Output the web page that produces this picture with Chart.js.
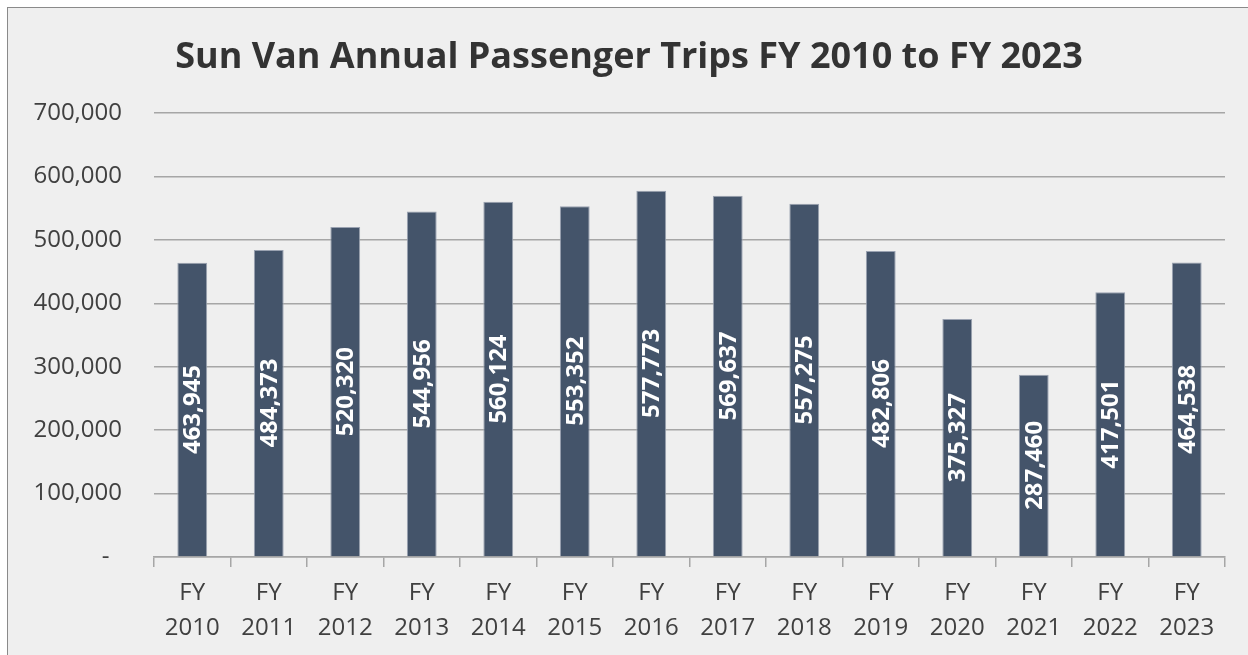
<!DOCTYPE html>
<html>
<head>
<meta charset="utf-8">
<script src="https://cdn.jsdelivr.net/npm/chart.js@4.4.1/dist/chart.umd.min.js"></script>
<style>
  html, body { margin: 0; padding: 0; background: #ffffff; overflow: hidden; }
  .frame {
    position: absolute; left: 7px; top: 7px; width: 1300px; height: 700px;
    background: #efefef; border: 1.5px solid #8a8a8a;
  }
  .wrap { position: absolute; left: 0; top: 0; width: 1248px; height: 655px; }
</style>
</head>
<body>
<div class="frame"></div>
<div class="wrap"><canvas id="tripsChart"></canvas></div>
<script>
// Chart data
const fiscalYears = ['2010', '2011', '2012', '2013', '2014', '2015', '2016', '2017', '2018', '2019', '2020', '2021', '2022', '2023'];
const passengerTrips = [463945, 484373, 520320, 544956, 560124, 553352, 577773, 569637, 557275, 482806, 375327, 287460, 417501, 464538];
const yTicks = [0, 100000, 200000, 300000, 400000, 500000, 600000, 700000];

const FONT = "'Open Sans', sans-serif";

// Rotated value labels in the middle of each bar
const barLabels = {
    id: 'barLabels',
    afterDatasetsDraw(chart) {
        const ctx = chart.ctx;
        const meta = chart.getDatasetMeta(0);
        ctx.save();
        ctx.fillStyle = '#ffffff';
        ctx.font = "bold 24px " + FONT;
        ctx.textAlign = 'center';
        ctx.textBaseline = 'middle';
        meta.data.forEach((bar, i) => {
            const mid = (bar.y + bar.base) / 2;
            ctx.save();
            ctx.translate(bar.x, mid);
            ctx.rotate(-Math.PI / 2);
            ctx.fillText(passengerTrips[i].toLocaleString('en-US'), 0, 1);
            ctx.restore();
        });
        ctx.restore();
    }
};

const ctx = document.getElementById('tripsChart').getContext('2d');
new Chart(ctx, {
    type: 'bar',
    data: {
        labels: fiscalYears.map(y => ['FY', y]),
        datasets: [{
            label: 'Passenger Trips',
            data: passengerTrips,
            backgroundColor: '#44546a',
            borderColor: '#9aa2b1',
            borderWidth: 1,
            categoryPercentage: 1,
            barPercentage: 0.39
        }]
    },
    options: {
        responsive: true,
        maintainAspectRatio: false,
        animation: false,
        layout: { padding: { left: 10, right: 0, top: 0, bottom: 0 } },
        plugins: {
            legend: { display: false },
            tooltip: { enabled: false },
            title: {
                display: true,
                text: 'Sun Van Annual Passenger Trips FY 2010 to FY 2023',
                color: '#333333',
                font: { family: FONT, size: 36, weight: 'bold' },
                padding: { top: 36, bottom: 34 }
            }
        },
        scales: {
            y: {
                min: 0,
                max: 700000,
                afterBuildTicks: (scale) => { scale.ticks = yTicks.map(v => ({ value: v })); },
                afterFit: (scale) => { scale.width = 144; },
                border: { display: false },
                grid: { color: '#a6a6a6', lineWidth: 1.5, drawTicks: false },
                ticks: {
                    color: '#404040',
                    padding: 32,
                    font: { family: FONT, size: 24 },
                    callback: (v) => v === 0 ? '-  ' : v.toLocaleString('en-US')
                }
            },
            // empty spacer on the right so the plot ends where the original does
            spacer: {
                type: 'linear',
                position: 'right',
                afterFit: (scale) => { scale.width = 23; },
                border: { display: false },
                grid: { display: false },
                ticks: { display: false }
            },
            x: {
                border: { display: true, color: '#a6a6a6', width: 1.5 },
                grid: { drawOnChartArea: false, color: '#a6a6a6', lineWidth: 1.5, tickLength: 10 },
                ticks: {
                    color: '#404040',
                    padding: 9,
                    maxRotation: 0,
                    font: { family: FONT, size: 24, lineHeight: 1.46 }
                }
            }
        }
    },
    plugins: [barLabels]
});
</script>
</body>
</html>
